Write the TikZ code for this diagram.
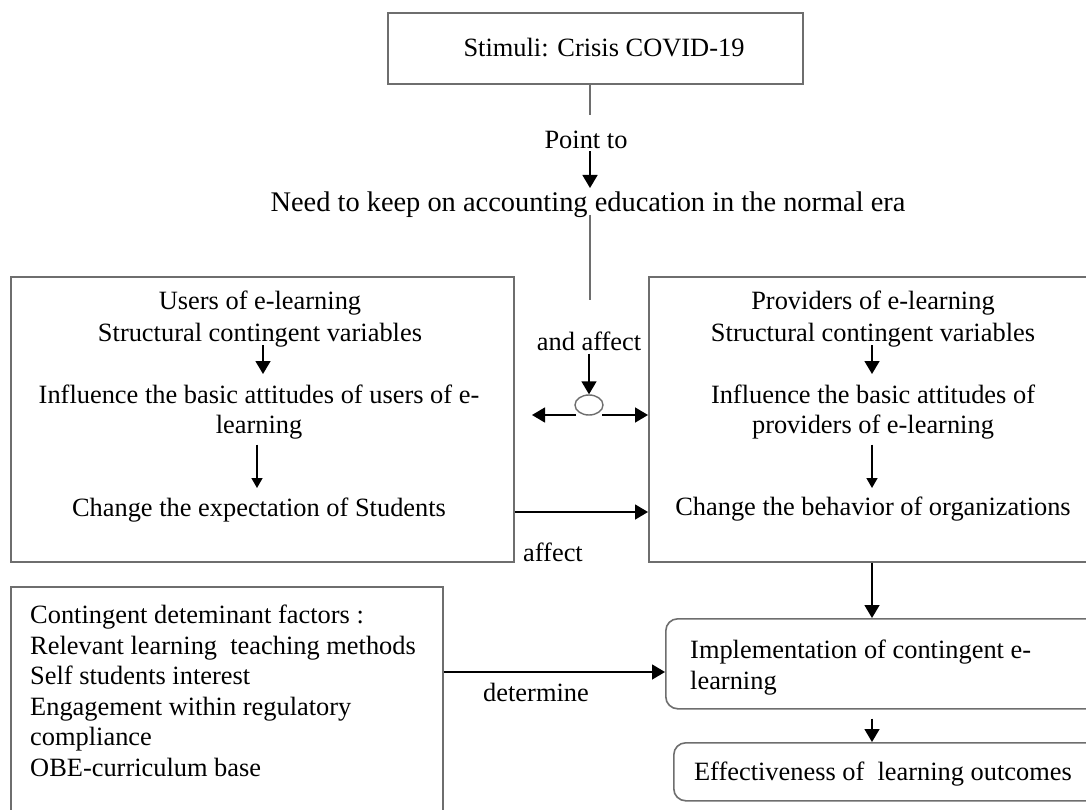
\documentclass[tikz,border=0pt]{standalone}
\usepackage{fontspec}
\setmainfont{Liberation Serif}
\usetikzlibrary{arrows.meta,shapes.geometric,calc}
\definecolor{boxgray}{RGB}{110,110,110}
\tikzset{
  boxline/.style={draw=boxgray, line width=1.6pt},
  sqbox/.style={boxline, rectangle},
  rbox/.style={boxline, rectangle, rounded corners=12pt},
  txt/.style={inner sep=0pt, align=center},
  arr/.style={draw=black, line width=1.5pt, -{Triangle[length=13pt,width=15pt]}},
  arrsm/.style={draw=black, line width=1.5pt, -{Triangle[length=10pt,width=11pt]}},
  gline/.style={draw=boxgray, line width=1.6pt},
}
\begin{document}
\begin{tikzpicture}[x=1pt,y=-1pt,font=\fontsize{26.4}{30.5}\selectfont]
\useasboundingbox[fill=white] (0,0) rectangle (1086,810);
\clip (0,0) rectangle (1086,810);
% top
\draw[boxline] (388,13) rectangle (803,84);
\node[txt] (top) at (604,48) {Stimuli: Crisis COVID-19};
\coordinate (topb) at (590,84);
\node[txt] (pt) at (586,140) {Point to};
\node[txt, font=\fontsize{28.4}{32}\selectfont] (need) at (588,205) {Need to keep on accounting education in the normal era};
\coordinate (lineend) at (590,300);
\draw[gline] (topb) -- (590,115);
\draw[arr] (pt.south -| 590,0) ++(0,2) -- (590,188);
\draw[gline] (590,215) -- (lineend);
% boxes
\node[sqbox, minimum width=503pt, minimum height=285pt, anchor=north west] (L) at (10,276) {};
\node[sqbox, minimum width=480pt, minimum height=285pt, anchor=north west] (R) at (648,276) {};
% left texts
\node[txt] (u1) at (260,303) {Users of e-learning};
\node[txt] (u2) at (260,335) {Structural contingent variables};
\node[txt] (u3) at (259,412) {Influence the basic attitudes of users of e-\\learning};
\node[txt] (u4) at (259,510) {Change the expectation of Students};
\draw[arr] (u2.south -| 263,0) ++(0,-2) -- (263,374);
\draw[arrsm] (u3.south -| 257,0) ++(0,5) -- (257,488);
% right texts
\node[txt] (p1) at (873,303) {Providers of e-learning};
\node[txt] (p2) at (873,335) {Structural contingent variables};
\node[txt] (p3) at (873,412) {Influence the basic attitudes of\\providers of e-learning};
\node[txt] (p4) at (873,509) {Change the behavior of organizations};
\draw[arr] (p2.south -| 872,0) ++(0,-2) -- (872,374);
\draw[arrsm] (p3.south -| 872,0) ++(0,5) -- (872,488);
% and affect
\node[txt] (af) at (589,341) {and affect};
\node[draw=boxgray, line width=1.4pt, ellipse, minimum width=28pt, minimum height=20pt, inner sep=0pt] (ell) at (589,405) {};
\draw[arr] (af.south) ++(0,3) -- (af.south |- ell.north);
\coordinate (la) at (532,415);
\draw[arr] (576,415) -- (la);
\draw[arr] (602,415) -- (R.west |- 0,415);
% L -> R
\draw[arr] (L.east |- 0,512) -- (R.west |- 0,512);
\node[txt] (aff) at (553,552) {affect};
% bottom
\node[sqbox, minimum width=432pt, minimum height=260pt, anchor=north west] (C) at (10,586) {};
\node[inner sep=0pt, align=left, anchor=north west] (ctext) at (30,605) {Contingent deteminant factors :\\Relevant learning\ \ teaching methods\\Self students interest\\Engagement within regulatory\\compliance\\OBE-curriculum base};
\node[rbox, minimum width=460pt, minimum height=90pt, anchor=north west] (I) at (665,618) {};
\node[inner sep=0pt, align=left, anchor=north west] (itext) at (690,640) {Implementation of contingent e-\\learning};
\node[rbox, minimum width=450pt, minimum height=58pt, anchor=north west] (E) at (673,742) {};
\node[txt, anchor=base] (etext) at (883,780) {Effectiveness of\ \ learning outcomes};
\draw[arr] (R.south -| 872,0) -- (I.north -| 872,0);
\draw[arr] (I.south -| 872,0) ++(0,9) -- (E.north -| 872,0);
\draw[arr] (C.east |- 0,672) -- (I.west |- 0,672);
\node[txt] (det) at (536,692) {determine};
\end{tikzpicture}
\end{document}
